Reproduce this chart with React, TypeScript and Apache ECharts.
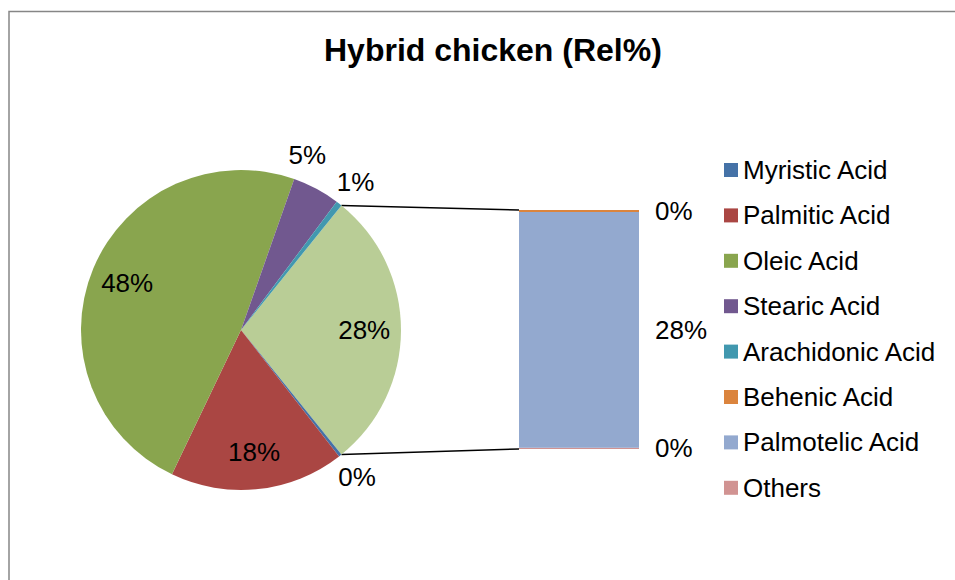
import React, { useEffect, useRef } from "react";
import * as echarts from "echarts";

const TITLE = "Hybrid chicken (Rel%)";
const PIE_CATEGORIES = ["Myristic Acid", "Palmitic Acid", "Oleic Acid", "Stearic Acid", "Arachidonic Acid"];
const PIE_VALUES = [0.3, 17.6, 48.3, 4.8, 0.6];
const BAR_CATEGORIES = ["Behenic Acid", "Palmotelic Acid", "Others"];
const BAR_VALUES = [0.25, 28.0, 0.15];
const OTHER_NAME = "Other";

const PIE_COLORS = ["#4572A7", "#AA4643", "#89A54E", "#71588F", "#4198AF"];
const BAR_COLORS = ["#DB843D", "#93A9CF", "#D19392"];
const OTHER_COLOR = "#B9CD96";

const FONT = "'Liberation Sans', Arial, sans-serif";
const FS = 26;

export default function App() {
  const ref = useRef<HTMLDivElement>(null);
  useEffect(() => {
    if (!ref.current) return;
    const chart = echarts.init(ref.current, null, { renderer: "svg" });

    const CX = 241, CY = 330, R = 160;
    const GL = 519, GT = 210, GW = 120, GH = 239;

    const otherTotal = BAR_VALUES.reduce((a, b) => a + b, 0);
    const total = otherTotal + PIE_VALUES.reduce((a, b) => a + b, 0);
    const startAngle = ((otherTotal / total) * 360) / 2;
    const rad = (startAngle * Math.PI) / 180;
    const pTop = [CX + R * Math.cos(rad), CY - R * Math.sin(rad)];
    const pBot = [CX + R * Math.cos(rad), CY + R * Math.sin(rad)];

    const pieData = [
      { name: OTHER_NAME, value: otherTotal, itemStyle: { color: OTHER_COLOR } },
      ...PIE_CATEGORIES.map((n, i) => ({ name: n, value: PIE_VALUES[i], itemStyle: { color: PIE_COLORS[i] } })),
    ];

    // mid angles of every slice (degrees, counter-clockwise from 3 o'clock)
    let cum = 0;
    const midAngles = pieData.map((d) => {
      const a0 = startAngle - (cum / total) * 360;
      cum += d.value;
      const a1 = startAngle - (cum / total) * 360;
      return (a0 + a1) / 2;
    });
    const isOutside = pieData.map((d) => d.value < 10);
    // spread outside labels that would collide (minimum angular gap)
    const labelAngles = midAngles.slice();
    const outsideIdx = pieData
      .map((_, i) => i)
      .filter((i) => isOutside[i])
      .sort((a, b) => {
        const na = ((labelAngles[a] % 360) + 540) % 360 - 180;
        const nb = ((labelAngles[b] % 360) + 540) % 360 - 180;
        return na - nb;
      });
    outsideIdx.forEach((i) => {
      labelAngles[i] = ((labelAngles[i] % 360) + 540) % 360 - 180;
    });
    for (let k = 1; k < outsideIdx.length; k++) {
      const prev = labelAngles[outsideIdx[k - 1]];
      if (labelAngles[outsideIdx[k]] < prev + 17) labelAngles[outsideIdx[k]] = prev + 17;
    }

    // bar stack order: bottom first
    const stackOrder = [2, 1, 0];
    const barSeries = stackOrder.map((i) => ({
      type: "bar",
      name: BAR_CATEGORIES[i],
      stack: "b",
      data: [BAR_VALUES[i]],
      barWidth: "100%",
      itemStyle: { color: BAR_COLORS[i] },
      label: {
        show: true,
        position: "right",
        distance: 16,
        fontSize: FS,
        fontFamily: FONT,
        color: "#000",
        formatter: (p: any) => Math.round(p.value) + "%",
      },
      xAxisIndex: 0,
      yAxisIndex: 0,
    }));

    chart.setOption({
      animation: false,
      backgroundColor: "#fff",
      title: {
        text: TITLE,
        left: 319,
        top: 29,
        textStyle: { fontFamily: FONT, fontSize: 32, fontWeight: "bold", color: "#000" },
      },
      legend: {
        orient: "vertical",
        left: 724,
        top: 157,
        padding: 0,
        icon: "rect",
        itemWidth: 14,
        itemHeight: 14,
        itemGap: 19.4,
        data: [...PIE_CATEGORIES, ...BAR_CATEGORIES],
        textStyle: { fontFamily: FONT, fontSize: FS, lineHeight: 26, color: "#000" },
      },
      grid: { left: GL, top: GT, width: GW, height: GH },
      xAxis: { type: "category", data: ["x"], show: false },
      yAxis: { type: "value", min: 0, max: otherTotal, show: false },
      series: [
        {
          type: "pie",
          center: [CX, CY],
          radius: R,
          startAngle,
          clockwise: true,
          data: pieData,
          label: {
            show: true,
            position: "inside",
            fontSize: FS,
            fontFamily: FONT,
            color: "#000",
            formatter: (p: any) => Math.round(p.value) + "%",
          },
          labelLine: { show: false },
          labelLayout: (p: any) => {
            const i = p.dataIndex;
            const a = (labelAngles[i] * Math.PI) / 180;
            const target = isOutside[i] ? R + 27 : R * 0.77;
            return {
              x: CX + Math.cos(a) * target,
              y: CY - Math.sin(a) * target,
              align: "center",
              verticalAlign: "middle",
            };
          },
          emphasis: { disabled: true },
        },
        ...barSeries,
      ],
      graphic: [
        {
          type: "rect",
          shape: { x: 9, y: 11.5, width: 1200, height: 1000 },
          style: { fill: "none", stroke: "#868686", lineWidth: 1.5 },
          silent: true,
        },
        {
          type: "line",
          shape: { x1: pTop[0], y1: pTop[1], x2: GL, y2: GT },
          style: { stroke: "#000", lineWidth: 1.5 },
          silent: true,
        },
        {
          type: "line",
          shape: { x1: pBot[0], y1: pBot[1], x2: GL, y2: GT + GH },
          style: { stroke: "#000", lineWidth: 1.5 },
          silent: true,
        },
      ],
    });
    return () => chart.dispose();
  }, []);
  return (
    <div
      ref={ref}
      style={{ position: "absolute", left: 0, top: 0, width: 955, height: 580 }}
    />
  );
}
